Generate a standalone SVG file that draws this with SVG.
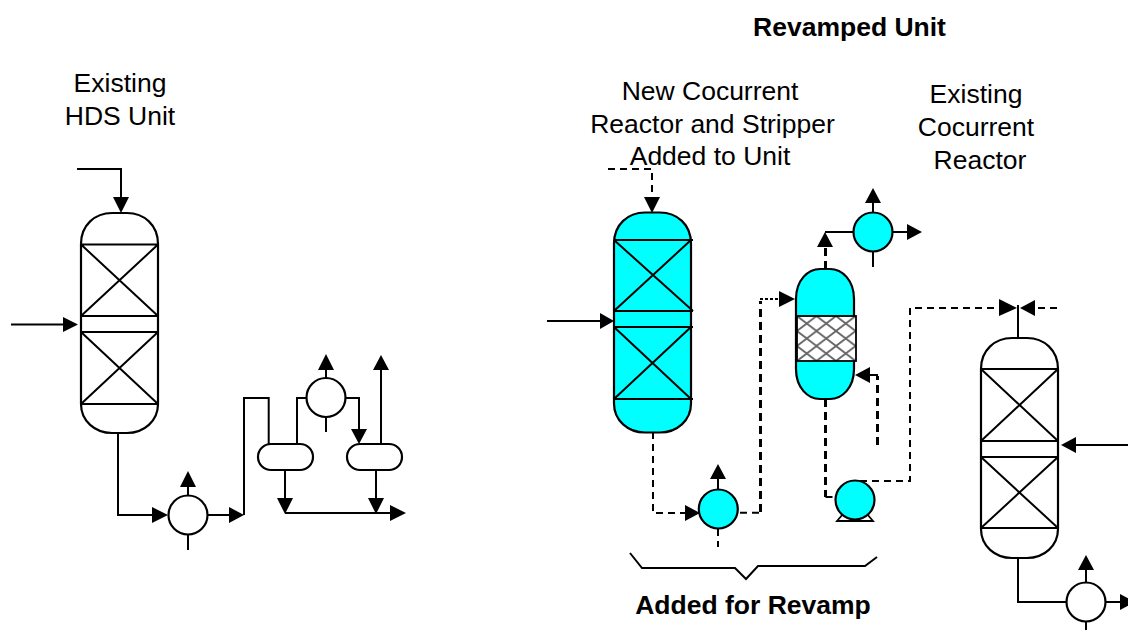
<svg xmlns="http://www.w3.org/2000/svg" width="1128" height="630" viewBox="0 0 1128 630">
<style>
text{font-family:"Liberation Sans",Arial,sans-serif;font-size:26.500px;fill:#000;text-anchor:middle}
.b{font-weight:bold}
.v{fill:#fff;stroke:#000;stroke-width:2.200}
.c{fill:#0ff;stroke:#000;stroke-width:2.200}
.l{fill:none;stroke:#000;stroke-width:2}
.d{fill:none;stroke:#000;stroke-width:2;stroke-dasharray:7 5}
.t{fill:none;stroke:#000;stroke-width:3;stroke-dasharray:8 5}
.o{fill:none;stroke:#000;stroke-width:2;stroke-dasharray:3 2}
.h{fill:#000;stroke:none}
</style>
<defs>
<pattern id="hatch" width="19.500" height="15" patternUnits="userSpaceOnUse" patternTransform="translate(797 316)">
<rect width="19.500" height="15" fill="#fff"/>
<path d="M0 0L19.500 15M19.500 0L0 15" stroke="#666" stroke-width="1.800"/>
</pattern>
<path id="r" d="M0 31C0 12 14 0 31 0H46C63 0 77 12 77 31V191C77 208 63 220 46 220H31C14 220 0 208 0 191Z"/>
</defs>
<g id="title-revamped"><text class="b" x="849.500" y="36">Revamped Unit</text></g>
<g id="label-hds"><text x="120" y="92">Existing</text><text x="120" y="125">HDS Unit</text></g>
<g id="label-new"><text x="710" y="100">New Cocurrent</text><text x="712.500" y="133">Reactor and Stripper</text><text x="710" y="165">Added to Unit</text></g>
<g id="label-existing"><text x="976" y="103">Existing</text><text x="976" y="136">Cocurrent</text><text x="980" y="169">Reactor</text></g>
<g id="label-added"><text class="b" x="753" y="614">Added for Revamp</text></g>

<g id="connectors">
<path class="l" d="M77 169H121V198M11 324.500H64M118 433V515H153M207 515H229M244 515V398H268.700V444M297 444V398H307M345 398H359V430M326 378V370M326 417V432M381 444V369M285 470V499M285 513H391M376 470V499M188 495V486M188 535V550"/>
<path class="h" d="M113 197H129L121 213ZM63 317V332L78 324.500ZM152 507V523L168 515ZM229 507V523L244 515ZM180 487H196L188 471ZM318 370H334L326 354ZM351 429H367L359 444ZM373 370H389L381 355ZM277 498H293L285 514ZM368 498H384L376 514ZM390 505V521L406 513Z"/>

<path class="d" d="M608 169H652V198M653 432V513H686M718 529V547M740 512.700H760M860 481H910V308H1000M1057 308H1036M825.500 497H836"/>
<path class="t" d="M760.500 512V301M825.500 269V248M877.500 445V376M825.500 399V497"/>
<path class="o" d="M760 299H780"/>
<path class="l" d="M547 321H601M825 232H854M892 232H908M873 212V203M873 252V267M718 489V479M1018 338V305M1129 445H1076M1018 558V602H1067M1105 602H1121M1086 582V570M1086 622V630M870 375H878"/>
<path class="h" d="M600 313V329L614 321ZM644 197H660L652 213ZM685 505V521L700 513ZM710 479H726L718 464ZM779 291V307L795 299ZM817 247H833L825 232ZM865 203H881L873 188ZM907 224V240L922 232ZM870 367V383L855 375ZM999 299V316L1017 308ZM1035 300V316L1020 308ZM1076 437V453L1061 445ZM1078 570H1094L1086 555ZM1120 594V610L1135 602Z"/>
<path class="l" d="M630 553L642 568H735L746 579L758 566H865L877 557"/>
</g>

<g id="reactor-hds">
<use href="#r" class="v" x="81" y="213"/>
<path class="l" d="M81 244.500H158M81 316H158M81 332H158M81 404H158M81 244.500L158 316M158 244.500L81 316M81 332L158 404M158 332L81 404"/>
</g>
<g id="exchanger-1"><circle class="v" cx="188" cy="515" r="19.500"/></g>
<g id="drum-1"><rect class="v" x="258" y="444" width="55" height="26" rx="13"/></g>
<g id="drum-2"><rect class="v" x="347" y="444" width="55" height="26" rx="13"/></g>
<g id="exchanger-2"><circle class="v" cx="326" cy="397.500" r="19.500"/></g>

<g id="reactor-new">
<use href="#r" class="c" x="614" y="212.500"/>
<path class="l" d="M614 240H693M614 311H693M614 327H693M614 399H693M614 240L693 311M691 240L614 311M614 327L691 399M691 327L614 399"/>
</g>
<g id="exchanger-3"><circle class="c" cx="718.300" cy="509" r="19.500"/></g>
<g id="stripper">
<path class="c" d="M796 299C796 280 808 269 820 269H830C842 269 854 280 854 299V369C854 388 842 399 830 399H820C808 399 796 388 796 369Z"/>
<rect x="797" y="316" width="59" height="45" fill="url(#hatch)" stroke="#000" stroke-width="1.800"/>
</g>
<g id="exchanger-4"><circle class="c" cx="873" cy="232" r="19.500"/></g>
<g id="pump">
<path d="M843 514L837 521H873L867 514" fill="#fff" stroke="#000" stroke-width="1.800"/>
<circle class="c" cx="855" cy="500" r="19.500"/>
</g>
<g id="reactor-existing">
<use href="#r" class="v" x="981" y="338"/>
<path class="l" d="M981 369H1058M981 441H1058M981 457H1058M981 528H1058M981 369L1058 441M1058 369L981 441M981 457L1058 528M1058 457L981 528"/>
</g>
<g id="exchanger-5"><circle class="v" cx="1086" cy="602" r="19.500"/></g>
</svg>
